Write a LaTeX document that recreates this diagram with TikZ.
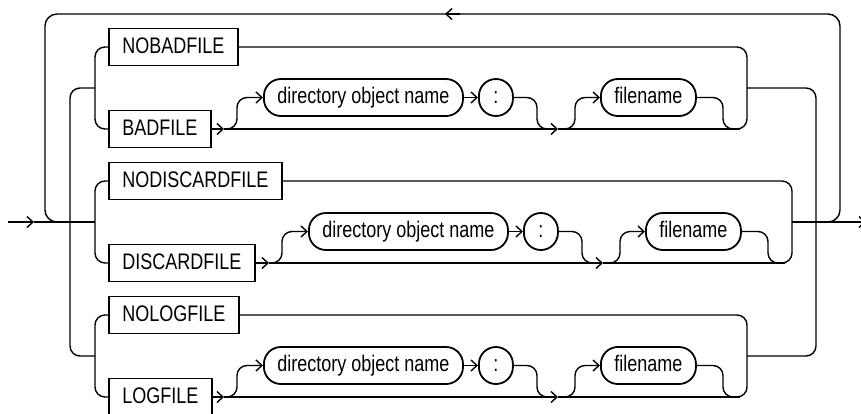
\documentclass[tikz,border=0pt]{standalone}
\usepackage{fontspec}
\setmainfont{Liberation Sans}[FakeStretch=0.8]
\usetikzlibrary{arrows.meta}
\tikzset{
  rail/.style={line width=1.4pt},
  tip/.style={-{Straight Barb[length=6pt,width=11pt]}},
  kw/.style={draw, line width=1.8pt, minimum height=37pt, inner xsep=13.5pt, inner ysep=0pt,
    text height=16.5pt, text depth=4pt, font=\fontsize{22.5}{22.5}\selectfont},
  ov/.style={kw, rounded corners=17pt},
}
\newcommand\railgrp[5]{%
  \pgfmathsetmacro\rgNy{#4}%
  \pgfmathsetmacro\rgYy{#4+82}%
  \pgfmathsetmacro\rgOy{#4+50.5}%
  \pgfmathsetmacro\rgJy{#4+41}%
  \node[kw,anchor=west] (#1no) at (108,\rgNy) {#2};
  \node[kw,anchor=west] (#1yes) at (108,\rgYy) {#3};
  \coordinate (#1j) at (95,\rgJy);
  \coordinate (#1r) at (747+#5,\rgJy);
  \node[ov,anchor=west] (#1dir) at (263+#5,\rgOy) {directory object name};
  \node[ov,anchor=west,minimum width=34pt] (#1col) at (478+#5,\rgOy) {:};
  \node[ov,anchor=west] (#1fn) at (600+#5,\rgOy) {filename};
  \draw[rail,rounded corners=10pt] (#1no.west) -| (#1j) |- (#1yes.west);
  \draw[rail,rounded corners=10pt] (#1no.east) -| (#1r) |- (735+#5,\rgYy);
  \draw[rail,tip] (#1yes.east) -- (224+#5,\rgYy);
  \draw[rail,tip] (224+#5,\rgYy) -- (558+#5,\rgYy);
  \draw[rail] (558+#5,\rgYy) -- (740+#5,\rgYy);
  \draw[rail,tip,rounded corners=10pt] (226+#5,\rgYy) -| (237+#5,\rgOy) -- (#1dir.west);
  \draw[rail,tip] (#1dir) -- (#1col);
  \draw[rail,rounded corners=10pt] (#1col.east) -| (537+#5,\rgYy) -- (549+#5,\rgYy);
  \draw[rail,tip,rounded corners=10pt] (562+#5,\rgYy) -| (575+#5,\rgOy) -- (#1fn.west);
  \draw[rail,rounded corners=10pt] (#1fn.east) -| (723+#5,\rgYy) -- (735+#5,\rgYy);
}
\begin{document}
\begin{tikzpicture}[x=1pt,y=-1pt]
  \useasboundingbox (0,0) rectangle (861,413);
  \railgrp{ga}{NOBADFILE}{BADFILE}{47}{0}
  \railgrp{gb}{NODISCARDFILE}{DISCARDFILE}{181}{45}
  \railgrp{gc}{NOLOGFILE}{LOGFILE}{315}{0}
  % selectors
  \draw[rail,rounded corners=10pt] (gaj) -| (70,222) |- (gcj);
  \draw[rail,rounded corners=10pt] (gar) -| (816,222) |- (gcr);
  % main line
  \coordinate (start) at (8,222);
  \coordinate (inarr) at (34,222);
  \coordinate (finish) at (866,222);
  \draw[rail,tip] (start) -- (inarr);
  \draw[rail] (inarr) -- (gbj);
  \draw[rail,tip] (gbr) -- (finish);
  % loop back
  \draw[rail,rounded corners=12pt] (58,222) -| (45,14) -| (840,222) -- (828,222);
  \draw[rail,tip] (460,14) -- (445,14);
\end{tikzpicture}
\end{document}
